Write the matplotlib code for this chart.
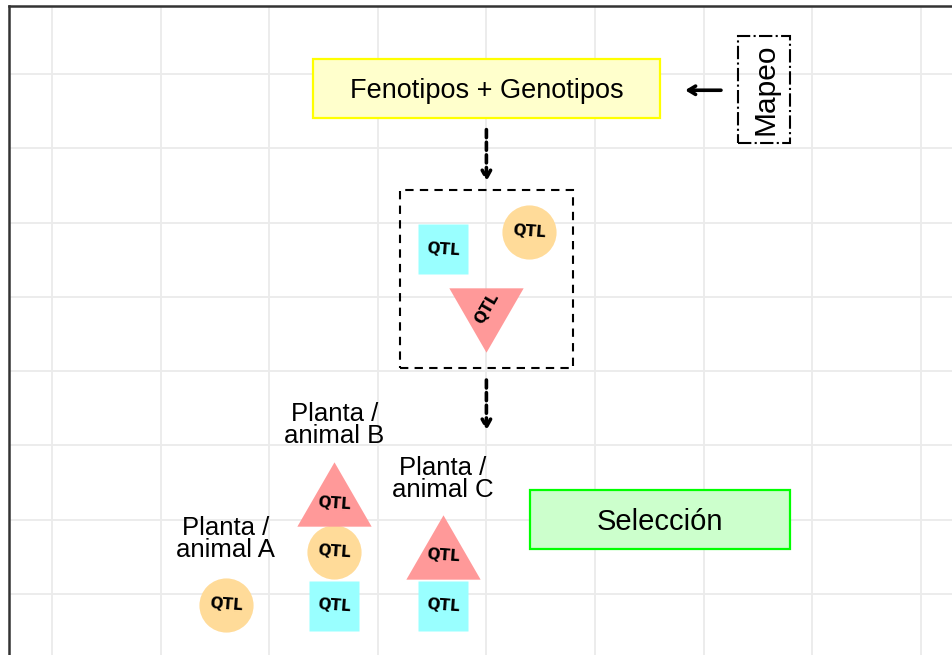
import matplotlib
matplotlib.use("Agg")
import matplotlib.pyplot as plt
from matplotlib.patches import Rectangle
from matplotlib.path import Path
import numpy as np

# ---- data (in data coordinates) ----
box_labels = ["Fenotipos + Genotipos", "Selección"]
box_x = [4.0, 5.6]
box_y = [6.8, 1.0]
box_w = [3.2, 2.4]
box_h = [0.8, 0.8]
box_face = ["#FFFFCC", "#CCFFCC"]
box_edge = ["#FFFF00", "#00FF00"]
box_fs = [19.5, 21.0]

mapeo_x = 6.56
mapeo_y = 6.79
mapeo_w = 0.48
mapeo_h = 1.44

qtl_box_x = [3.2, 4.8]
qtl_box_y = [3.04, 5.44]

square_x = [3.6, 2.6, 3.6]
square_y = [4.64, -0.16, -0.16]
circle_x = [4.39, 2.6, 1.6]
circle_y = [4.87, 0.57, -0.15]
tri_up_x = [2.6, 3.6]
tri_up_y = [1.34, 0.63]
tri_down_x = [4.0]
tri_down_y = [3.69]

plant_labels = ["Planta /\nanimal A", "Planta /\nanimal B", "Planta /\nanimal C"]
plant_x = [1.6, 2.6, 3.6]
plant_y = [0.74, 2.27, 1.55]

arrow_dash_x = [4.0, 4.0]
arrow_dash_y0 = [6.25, 2.88]
arrow_dash_y1 = [5.55, 2.2]
arrow_map_x0 = 6.16
arrow_map_x1 = 5.83
arrow_map_y = 6.78

# ---- figure ----
W, H = 952, 655
fig = plt.figure(figsize=(W / 100, H / 100), dpi=100)
left_px, top_px, right_px, bottom_px = 9, 6, 965, 670
ax = fig.add_axes([left_px / W, 1 - bottom_px / H,
                   (right_px - left_px) / W, (bottom_px - top_px) / H])
ax.set_xlim(-0.396, (right_px - 52) / 108.6)
ax.set_ylim((594 - bottom_px) / 74.3, (594 - top_px) / 74.3)
ax.set_xticks(range(0, 9))
ax.set_yticks(range(0, 8))
ax.tick_params(length=0, labelbottom=False, labelleft=False)
ax.grid(True, color="#EBEBEB", lw=1.3)
ax.set_axisbelow(True)
for s in ax.spines.values():
    s.set_color("#333333")
    s.set_linewidth(1.8)

FONT = "Liberation Sans"

# boxes
for lab, x, y, w, h, fc, ec, fs in zip(box_labels, box_x, box_y, box_w, box_h,
                                       box_face, box_edge, box_fs):
    ax.add_patch(Rectangle((x - w / 2, y - h / 2), w, h, facecolor=fc, edgecolor=ec, lw=1.6, zorder=2))
    ax.text(x, y - 0.035, lab, ha="center", va="center", fontsize=fs, family=FONT, zorder=3)

# Mapeo box
ax.add_patch(Rectangle((mapeo_x - mapeo_w / 2, mapeo_y - mapeo_h / 2), mapeo_w, mapeo_h,
                       facecolor="none", edgecolor="black", lw=1.5, ls="-.", zorder=2))
ax.text(mapeo_x + 0.01, mapeo_y, "Mapeo", rotation=90, ha="center", va="center",
        fontsize=21.5, family=FONT, zorder=3)

# QTL dashed box
ax.add_patch(Rectangle((qtl_box_x[0], qtl_box_y[0]), qtl_box_x[1] - qtl_box_x[0],
                       qtl_box_y[1] - qtl_box_y[0], facecolor="none", edgecolor="black",
                       lw=1.5, ls=(0, (4, 3)), zorder=2))

# arrows
for x, y0, y1 in zip(arrow_dash_x, arrow_dash_y0, arrow_dash_y1):
    ax.annotate("", xy=(x, y1), xytext=(x, y0),
                arrowprops=dict(arrowstyle="->,head_length=0.55,head_width=0.3",
                                lw=2.6, ls=(0, (2.2, 1.3)), color="black",
                                shrinkA=0, shrinkB=0), zorder=4)
ax.annotate("", xy=(arrow_map_x1, arrow_map_y), xytext=(arrow_map_x0, arrow_map_y),
            arrowprops=dict(arrowstyle="->,head_length=0.5,head_width=0.3",
                            lw=2.6, color="black", shrinkA=0, shrinkB=0), zorder=4)

# shapes
tri_up = Path([(-1, -0.866), (1, -0.866), (0, 0.866), (-1, -0.866)],
              [Path.MOVETO, Path.LINETO, Path.LINETO, Path.CLOSEPOLY])
tri_dn = Path([(-1, 0.866), (1, 0.866), (0, -0.866), (-1, 0.866)],
              [Path.MOVETO, Path.LINETO, Path.LINETO, Path.CLOSEPOLY])

ax.plot(square_x, square_y, ls="none", marker="s", ms=35.3, mfc="#99FFFF", mec="none", zorder=3)
ax.plot(circle_x, circle_y, ls="none", marker="o", ms=39, mfc="#FFDB99", mec="none", zorder=3)
ax.plot(tri_up_x, tri_up_y, ls="none", marker=tri_up, ms=53.5, mfc="#FF9999", mec="none", zorder=3)
ax.plot(tri_down_x, tri_down_y, ls="none", marker=tri_dn, ms=53.5, mfc="#FF9999", mec="none", zorder=3)

qkw = dict(ha="center", va="center", fontsize=11, fontweight="bold", family="DejaVu Sans", zorder=5)
for x, y in zip(square_x, square_y):
    ax.text(x, y, "QTL", rotation=-4, **qkw)
for x, y in zip(circle_x, circle_y):
    ax.text(x, y, "QTL", rotation=-4, **qkw)
for x, y in zip(tri_up_x, tri_up_y):
    ax.text(x, y - 0.12, "QTL", rotation=-4, **qkw)
for x, y in zip(tri_down_x, tri_down_y):
    ax.text(x, y + 0.15, "QTL", rotation=60, **qkw)

# plant labels
for lab, x, y in zip(plant_labels, plant_x, plant_y):
    ax.text(x, y, lab, ha="center", va="center", fontsize=18.5, family=FONT,
            linespacing=0.88, zorder=3)

fig.savefig("out.png", dpi=100)
